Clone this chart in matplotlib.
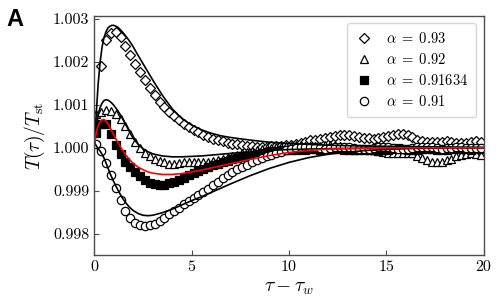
import matplotlib
matplotlib.use("Agg")
import matplotlib.pyplot as plt
import numpy as np

plt.rcParams['font.family'] = 'serif'
plt.rcParams['font.serif'] = ['cmr10']
plt.rcParams['mathtext.fontset'] = 'cm'
plt.rcParams['axes.formatter.use_mathtext'] = True

# sampling times of the simulation data (step 0.25)
tau = np.arange(0.1, 20.0, 0.25)

alpha_093 = [np.nan, 1.00190, 1.00250, 1.00268, 1.00270, 1.00258, 1.00238, 1.00215, 1.00195, 1.00177,
             1.00158, 1.00140, 1.00123, 1.00107, 1.00094, 1.00083, 1.00074, 1.00065, 1.00056, 1.00049,
             1.00042, 1.00036, 1.00030, 1.00025, 1.00021, 1.00018, 1.00015, 1.00012, 1.00010, 1.00008,
             1.00006, 1.00005, 1.00004, 1.00003, 1.00003, 1.00003, 1.00004, 1.00004, 1.00005, 1.00006,
             1.00007, 1.00009, 1.00011, 1.00014, 1.00017, 1.00019, 1.00021, 1.00023, 1.00025, 1.00027,
             1.00029, 1.00030, 1.00029, 1.00027, 1.00025, 1.00023, 1.00022, 1.00021, 1.00022, 1.00024,
             1.00027, 1.00030, 1.00032, 1.00032, 1.00029, 1.00024, 1.00019, 1.00016, 1.00014, 1.00013,
             1.00013, 1.00014, 1.00015, 1.00014, 1.00012, 1.00011, 1.00012, 1.00014, 1.00015, 1.00013]

alpha_092 = [1.00078, 1.00084, 1.00088, 1.00086, 1.00078, 1.00066, 1.00050, 1.00032, 1.00014, 1.00000,
             0.99989, 0.99981, 0.99975, 0.99970, 0.99966, 0.99963, 0.99963, 0.99965, 0.99967, 0.99968,
             0.99968, 0.99968, 0.99968, 0.99968, 0.99970, 0.99972, 0.99975, 0.99978, 0.99981, 0.99984,
             0.99987, 0.99990, 0.99993, 0.99995, 0.99997, 0.99999, 1.00000, 1.00002, 1.00003, 1.00004,
             1.00005, 1.00006, 1.00006, 1.00005, 1.00004, 1.00004, 1.00005, 1.00006, 1.00007, 1.00006,
             1.00004, 1.00001, 0.99998, 0.99996, 0.99995, 0.99995, 0.99996, 0.99995, 0.99993, 0.99990,
             0.99988, 0.99987, 0.99987, 0.99988, 0.99989, 0.99987, 0.99982, 0.99976, 0.99971, 0.99968,
             0.99967, 0.99968, 0.99971, 0.99975, 0.99980, 0.99984, 0.99986, 0.99987, 0.99985, 0.99983]

alpha_0916 = [1.00035, 1.00055, 1.00055, 1.00032, 1.00006, 0.99985, 0.99968, 0.99955, 0.99944, 0.99934,
              0.99926, 0.99919, 0.99915, 0.99913, 0.99914, 0.99917, 0.99921, 0.99925, 0.99930, 0.99936,
              0.99941, 0.99946, 0.99951, 0.99955, 0.99959, 0.99963, 0.99966, 0.99970, 0.99973, 0.99976,
              0.99979, 0.99981, 0.99984, 0.99986, 0.99988, 0.99990, 0.99992, 0.99993, 0.99994, 0.99995,
              0.99996, 0.99996, 0.99997, 0.99996, 0.99998, 0.99997, 0.99995, 0.99996, 0.99998, 0.99999,
              0.99997, 0.99995, 0.99994, 0.99995, 0.99997, 0.99998, 0.99996, 0.99994, 0.99993, 0.99994,
              0.99996, 0.99998, 0.99999, 0.99997, 0.99995, 0.99994, 0.99995, 0.99997, 0.99998, 0.99997,
              0.99996, 0.99995, 0.99996, 0.99998, 0.99999, 0.99998, 0.99997, 0.99996, 0.99997, 0.99998]

alpha_091 = [1.00008, 0.99993, 0.99965, 0.99936, 0.99906, 0.99878, 0.99854, 0.99836, 0.99824, 0.99820,
             0.99819, 0.99820, 0.99823, 0.99829, 0.99836, 0.99845, 0.99853, 0.99861, 0.99869, 0.99877,
             0.99884, 0.99890, 0.99897, 0.99905, 0.99913, 0.99921, 0.99929, 0.99937, 0.99944, 0.99950,
             0.99956, 0.99961, 0.99966, 0.99971, 0.99976, 0.99980, 0.99984, 0.99988, 0.99991, 0.99994,
             0.99997, 0.99999, 1.00001, 1.00002, 1.00002, 1.00001, 0.99999, 0.99998, 0.99999, 1.00001,
             1.00002, 1.00003, 1.00002, 1.00000, 0.99998, 0.99997, 0.99998, 1.00000, 1.00001, 1.00002,
             1.00001, 0.99999, 0.99998, 0.99997, 0.99998, 1.00000, 1.00001, 1.00002, 1.00002, 1.00001,
             0.99999, 0.99998, 0.99999, 1.00000, 1.00001, 1.00001, 1.00000, 0.99999, 0.99999, 1.00000]

# theory curves
tau_th = [0, 0.1, 0.2, 0.3, 0.4, 0.5, 0.6, 0.7, 0.8, 0.9, 1.0, 1.2, 1.4, 1.6, 1.8, 2.0, 2.25, 2.5,
          2.75, 3.0, 3.5, 4.0, 4.5, 5.0, 5.5, 6.0, 6.5, 7.0, 8.0, 9.0, 10, 11, 12, 14, 16, 18, 20]

th_093 = [1.00005, 1.00080, 1.00150, 1.00200, 1.00235, 1.00257, 1.00270, 1.00279, 1.00283, 1.00285,
          1.00285, 1.00281, 1.00272, 1.00261, 1.00249, 1.00235, 1.00215, 1.00196, 1.00177, 1.00158,
          1.00122, 1.00091, 1.00068, 1.00053, 1.00042, 1.00034, 1.00028, 1.00024, 1.00018, 1.00013,
          1.00010, 1.00008, 1.00006, 1.00004, 1.00003, 1.00002, 1.00001]

th_092 = [1.00005, 1.00050, 1.00078, 1.00094, 1.00104, 1.00110, 1.00112, 1.00111, 1.00108, 1.00104,
          1.00099, 1.00087, 1.00072, 1.00055, 1.00038, 1.00022, 1.00008, 0.99998, 0.99991, 0.99986,
          0.99981, 0.99979, 0.99979, 0.99980, 0.99981, 0.99983, 0.99985, 0.99987, 0.99991, 0.99994,
          0.99996, 0.99997, 0.99998, 0.99999, 0.99999, 1.00000, 1.00000]

th_0916 = [1.00005, 1.00035, 1.00052, 1.00061, 1.00065, 1.00066, 1.00062, 1.00056, 1.00048, 1.00039,
           1.00030, 1.00013, 0.99998, 0.99984, 0.99973, 0.99964, 0.99955, 0.99949, 0.99944, 0.99941,
           0.99938, 0.99938, 0.99940, 0.99944, 0.99948, 0.99953, 0.99958, 0.99963, 0.99973, 0.99982,
           0.99989, 0.99994, 0.99997, 0.99999, 1.00000, 1.00000, 1.00000]

th_091 = [1.00012, 1.00005, 0.99998, 0.99992, 0.99985, 0.99976, 0.99965, 0.99953, 0.99941, 0.99931,
          0.99921, 0.99903, 0.99886, 0.99873, 0.99862, 0.99854, 0.99847, 0.99843, 0.99842, 0.99843,
          0.99849, 0.99857, 0.99867, 0.99877, 0.99886, 0.99896, 0.99906, 0.99916, 0.99935, 0.99952,
          0.99966, 0.99977, 0.99985, 0.99994, 0.99998, 1.00000, 1.00000]

fig = plt.figure(figsize=(4.99, 3.06), dpi=100)
ax = fig.add_axes([0.189, 0.166, 0.78, 0.782])

mk = dict(linestyle='none', markeredgecolor='k', markeredgewidth=0.9)
ax.plot(tau, alpha_093, marker='D', ms=5.4, markerfacecolor='w', label=r'$\alpha\;=\;0.93$', **mk)
ax.plot(tau, alpha_092, marker='^', ms=6.2, markerfacecolor='w', label=r'$\alpha\;=\;0.92$', **mk)
ax.plot(tau, alpha_0916, marker='s', ms=5.4, markerfacecolor='k', label=r'$\alpha\;=\;0.91634$', **mk)
ax.plot(tau, alpha_091, marker='o', ms=6.0, markerfacecolor='w', label=r'$\alpha\;=\;0.91$', **mk)

ax.plot(tau_th, th_093, c='k', lw=1.2)
ax.plot(tau_th, th_092, c='k', lw=1.2)
ax.plot(tau_th, th_091, c='k', lw=1.2)
ax.plot(tau_th, th_0916, c='r', lw=1.2)

ax.set_xlim(0, 20)
ax.set_ylim(0.9975, 1.00307)
ax.set_xticks([0, 5, 10, 15, 20])
ax.set_xticklabels(['0', '5', '10', '15', '20'])
ax.set_yticks([0.998, 0.999, 1.000, 1.001, 1.002, 1.003])
ax.set_yticklabels(['0.998', '0.999', '1.000', '1.001', '1.002', '1.003'])
ax.tick_params(direction='in', length=3.5, labelsize=11.5, color='0.3')
for s in ax.spines.values():
    s.set_color('0.3')
    s.set_linewidth(1.0)

ax.set_xlabel(r'$\tau - \tau_w$', fontsize=14, labelpad=4)
ax.set_ylabel(r'$T(\tau)/T_{\rm st}$', fontsize=14, labelpad=4)
ax.legend(loc='upper right', fontsize=10.5, handlelength=1.2, handletextpad=0.9,
          labelspacing=0.4, borderpad=0.55)

fig.text(0.012, 0.975, 'A', fontsize=17, fontweight='bold', va='top', family='Liberation Sans')

fig.savefig('out.png', dpi=100)
